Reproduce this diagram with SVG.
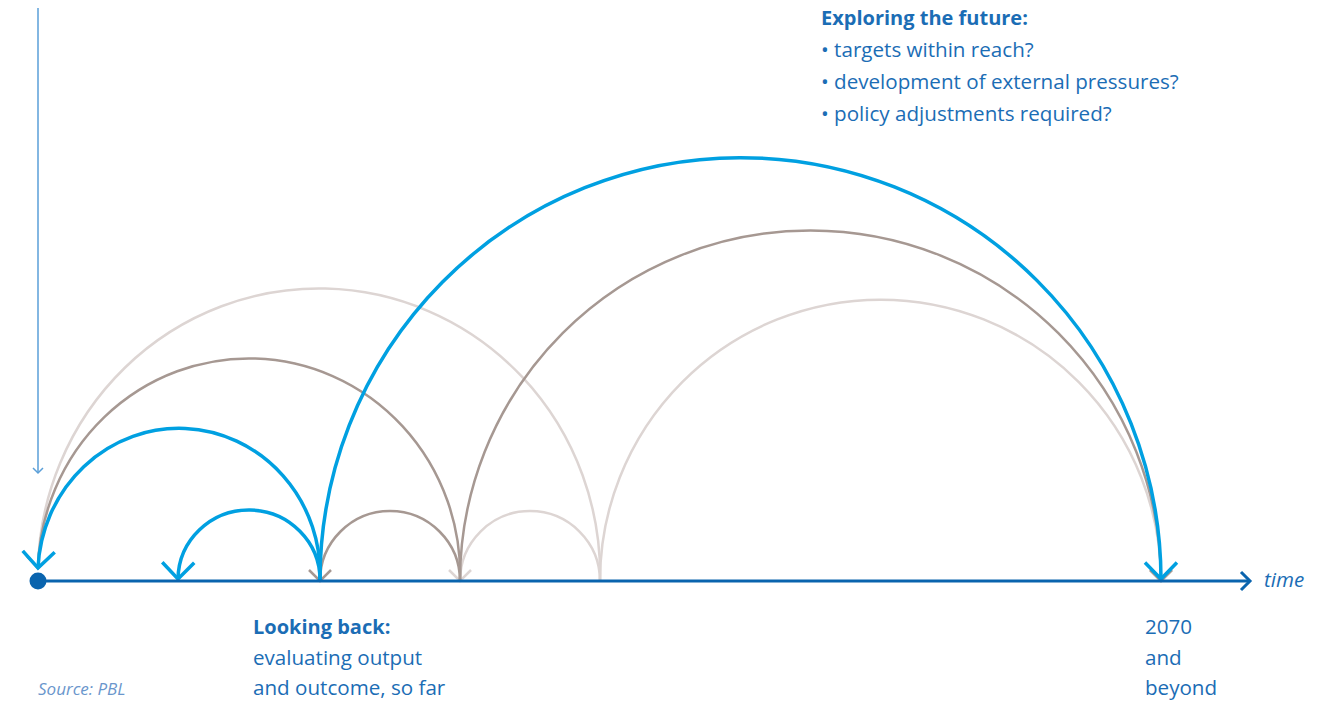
<svg xmlns="http://www.w3.org/2000/svg" width="1344" height="701" viewBox="0 0 1344 701">
  <style>
    .t { font-family: "Open Sans", "Noto Sans", "Liberation Sans", sans-serif; font-size: 20.6px; fill: #1b6db5; }
    .b { font-weight: bold; font-size: 20px; }
    .i { font-style: italic; }
    .blue { fill: none; stroke: #00a0e1; stroke-width: 3.5; }
    .brown { fill: none; stroke: #a69892; stroke-width: 2.5; }
    .gray { fill: none; stroke: #ddd5d3; stroke-width: 2.5; }
  </style>
  <defs>
    <marker id="mBlue" markerUnits="userSpaceOnUse" orient="auto" refX="0" refY="0" markerWidth="40" markerHeight="40" overflow="visible">
      <path d="M-16.5,-16 L0,0 L-16.5,16" fill="none" stroke="#00a0e1" stroke-width="3.5"/>
    </marker>
    <marker id="mBrown" markerUnits="userSpaceOnUse" orient="auto" refX="0" refY="0" markerWidth="40" markerHeight="40" overflow="visible">
      <path d="M-11,-11 L0,0 L-11,11" fill="none" stroke="#a69892" stroke-width="2.5"/>
    </marker>
    <marker id="mGray" markerUnits="userSpaceOnUse" orient="auto" refX="0" refY="0" markerWidth="40" markerHeight="40" overflow="visible">
      <path d="M-11,-11 L0,0 L-11,11" fill="none" stroke="#ddd5d3" stroke-width="2.5"/>
    </marker>
    <marker id="mAxis" markerUnits="userSpaceOnUse" orient="auto" refX="0" refY="0" markerWidth="40" markerHeight="40" overflow="visible">
      <path d="M-9,-9 L0,0 L-9,9" fill="none" stroke="#0a64ae" stroke-width="3"/>
    </marker>
    <marker id="mThin" markerUnits="userSpaceOnUse" orient="auto" refX="0" refY="0" markerWidth="20" markerHeight="20" overflow="visible">
      <path d="M-5,-5 L0,0 L-5,5" fill="none" stroke="#5a9fd8" stroke-width="1.5"/>
    </marker>
  </defs>

  <g id="connectors">
    <!-- light gray arcs from 600 -->
    <path class="gray" d="M600,581 A281,286 0 0 0 38,568" marker-end="url(#mGray)"/>
    <path class="gray" d="M600,581 A70,70 0 0 0 460,581" marker-end="url(#mGray)"/>
    <path class="gray" d="M600,581 A280,281 0 0 1 1161,581" marker-end="url(#mGray)"/>
    <!-- brown arcs from 460 -->
    <path class="brown" d="M460,581 A211,216 0 0 0 38,568" marker-end="url(#mBrown)"/>
    <path class="brown" d="M460,581 A70,70 0 0 0 320,581" marker-end="url(#mBrown)"/>
    <path class="brown" d="M460,581 A350,350 0 0 1 1161,581" marker-end="url(#mBrown)"/>
    <!-- blue arcs from 320 -->
    <path class="blue" d="M320,581 A141,146 0 0 0 38,568" marker-end="url(#mBlue)"/>
    <path class="blue" d="M320,581 A71,70 0 0 0 178,579" marker-end="url(#mBlue)"/>
    <path class="blue" d="M320,581 A420,422 0 0 1 1161,579" marker-end="url(#mBlue)"/>
    <!-- vertical arrow -->
    <line x1="38" y1="8" x2="38" y2="473" stroke="#5a9fd8" stroke-width="1.5" marker-end="url(#mThin)"/>
  </g>

  <g id="axis">
    <line x1="38" y1="581" x2="1250" y2="581" stroke="#0a64ae" stroke-width="3" marker-end="url(#mAxis)"/>
    <circle cx="38" cy="581" r="8.5" fill="#0a64ae"/>
    <text class="t i" x="1264" y="587">time</text>
  </g>

  <g id="future-label">
    <text class="t b" x="821" y="25">Exploring the future:</text>
    <text class="t" x="821" y="57">• targets within reach?</text>
    <text class="t" x="821" y="89">• development of external pressures?</text>
    <text class="t" x="821" y="121">• policy adjustments required?</text>
  </g>

  <g id="back-label">
    <text class="t b" x="253" y="634">Looking back:</text>
    <text class="t" x="253" y="665">evaluating output</text>
    <text class="t" x="253" y="695">and outcome, so far</text>
  </g>

  <g id="year-label">
    <text class="t" x="1145" y="634">2070</text>
    <text class="t" x="1145" y="665">and</text>
    <text class="t" x="1145" y="695">beyond</text>
  </g>

  <g id="source">
    <text class="t i" x="38" y="695" style="font-size:17px; fill:#6a96cc;">Source: PBL</text>
  </g>
</svg>
